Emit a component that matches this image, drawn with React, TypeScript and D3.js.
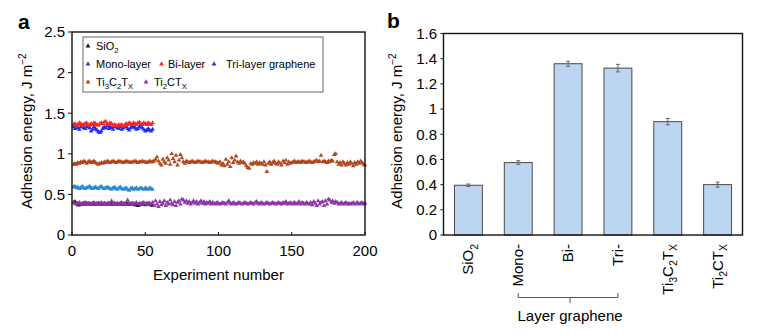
import React from 'react';
import * as d3 from 'd3';

// ---------- Panel a data (experiment number 1..N) ----------
const sio2 = [0.40,0.41,0.39,0.37,0.37,0.38,0.38,0.39,0.38,0.38,0.39,0.38,0.38,0.39,0.38,0.38,0.38,0.39,0.38,0.38,0.38,0.39,0.38,0.38,0.39,0.38,0.38,0.38,0.39,0.38,0.38,0.38,0.39,0.38,0.38,0.38,0.39,0.38,0.38,0.38,0.39,0.38,0.37,0.37,0.36,0.37,0.38,0.39,0.38,0.37,0.38,0.39,0.38,0.37,0.36];
const monoLayer = [0.59,0.60,0.58,0.59,0.57,0.58,0.60,0.58,0.57,0.58,0.59,0.60,0.58,0.57,0.58,0.59,0.58,0.57,0.59,0.60,0.58,0.57,0.58,0.59,0.58,0.57,0.56,0.58,0.59,0.57,0.56,0.58,0.59,0.57,0.56,0.57,0.58,0.56,0.55,0.57,0.58,0.56,0.57,0.58,0.56,0.57,0.58,0.57,0.56,0.58,0.57,0.56,0.58,0.57,0.56];
const biLayer = [1.36,1.37,1.35,1.36,1.38,1.37,1.35,1.36,1.37,1.38,1.36,1.35,1.37,1.36,1.38,1.37,1.36,1.35,1.37,1.38,1.37,1.39,1.40,1.37,1.36,1.38,1.37,1.35,1.36,1.35,1.34,1.36,1.35,1.36,1.34,1.35,1.37,1.36,1.38,1.37,1.36,1.38,1.37,1.36,1.38,1.39,1.37,1.36,1.38,1.37,1.36,1.38,1.37,1.36,1.38];
const triLayer = [1.33,1.31,1.34,1.32,1.30,1.33,1.35,1.32,1.31,1.33,1.34,1.32,1.28,1.30,1.33,1.31,1.29,1.27,1.26,1.28,1.31,1.33,1.32,1.34,1.31,1.33,1.32,1.30,1.33,1.34,1.32,1.31,1.33,1.30,1.32,1.34,1.33,1.31,1.29,1.32,1.33,1.34,1.32,1.30,1.31,1.33,1.35,1.32,1.30,1.28,1.29,1.31,1.29,1.28,1.30];
const ti3c2tx = [
  0.87,0.88,0.87,0.89,0.88,0.90,0.89,0.91,0.90,0.88,
  0.90,0.91,0.89,0.90,0.91,0.89,0.88,0.87,0.88,0.89,
  0.88,0.90,0.89,0.91,0.90,0.89,0.90,0.91,0.90,0.89,
  0.90,0.91,0.90,0.90,0.89,0.90,0.91,0.90,0.90,0.89,
  0.90,0.90,0.91,0.90,0.89,0.90,0.90,0.91,0.90,0.90,
  0.89,0.90,0.91,0.90,0.90,0.91,0.93,0.96,0.91,0.88,
  0.86,0.93,0.90,0.88,0.95,0.92,0.87,1.00,0.94,0.90,
  0.98,0.86,0.92,0.99,0.95,0.90,0.88,0.91,0.90,0.89,
  0.90,0.91,0.90,0.89,0.90,0.91,0.90,0.90,0.89,0.90,
  0.91,0.90,0.90,0.89,0.90,0.91,0.90,0.90,0.89,0.88,
  0.90,0.86,0.88,0.85,0.93,0.87,0.90,0.84,0.95,0.89,
  0.92,0.97,0.90,0.88,0.91,0.89,0.90,0.88,0.85,0.83,
  0.82,0.88,0.87,0.89,0.88,0.90,0.87,0.89,0.88,0.87,
  0.90,0.86,0.78,0.88,0.90,0.87,0.89,0.91,0.88,0.87,
  0.90,0.88,0.86,0.91,0.89,0.92,0.87,0.90,0.88,0.89,
  0.90,0.91,0.89,0.90,0.90,0.89,0.91,0.90,0.90,0.89,
  0.90,0.91,0.90,0.89,0.90,0.91,0.92,0.90,0.91,0.98,
  0.90,0.91,0.90,0.89,0.91,0.90,0.92,0.91,0.99,1.00,
  0.90,0.87,0.89,0.86,0.90,0.88,0.86,0.89,0.87,0.90,
  0.88,0.85,0.89,0.87,0.90,0.88,0.91,0.89,0.87,0.86];
const ti2ctx = [
  0.40,0.39,0.38,0.39,0.40,0.38,0.39,0.38,0.40,0.39,
  0.38,0.39,0.38,0.39,0.40,0.38,0.39,0.38,0.39,0.40,
  0.38,0.39,0.38,0.39,0.38,0.39,0.42,0.38,0.39,0.38,
  0.39,0.38,0.39,0.40,0.38,0.39,0.38,0.43,0.39,0.38,
  0.39,0.38,0.39,0.40,0.38,0.39,0.38,0.39,0.40,0.38,
  0.39,0.38,0.39,0.38,0.40,0.36,0.42,0.38,0.35,0.41,
  0.37,0.39,0.42,0.36,0.40,0.38,0.43,0.39,0.37,0.41,
  0.36,0.40,0.42,0.38,0.44,0.43,0.40,0.42,0.39,0.41,
  0.38,0.40,0.42,0.39,0.41,0.38,0.40,0.42,0.39,0.41,
  0.38,0.40,0.39,0.41,0.38,0.40,0.39,0.38,0.40,0.39,
  0.38,0.39,0.40,0.39,0.38,0.40,0.42,0.39,0.38,0.40,
  0.39,0.38,0.39,0.40,0.39,0.38,0.39,0.40,0.39,0.38,
  0.39,0.40,0.39,0.38,0.40,0.41,0.39,0.38,0.40,0.39,
  0.38,0.39,0.40,0.39,0.38,0.39,0.40,0.39,0.38,0.39,
  0.40,0.39,0.38,0.40,0.39,0.41,0.38,0.39,0.40,0.38,
  0.39,0.40,0.38,0.39,0.41,0.38,0.40,0.39,0.38,0.40,
  0.39,0.38,0.40,0.37,0.41,0.39,0.36,0.42,0.38,0.40,
  0.41,0.36,0.42,0.38,0.44,0.43,0.40,0.42,0.39,0.41,
  0.40,0.38,0.39,0.40,0.38,0.39,0.40,0.38,0.39,0.38,
  0.39,0.40,0.38,0.39,0.40,0.38,0.39,0.40,0.38,0.39];

const xTicksA = [0, 50, 100, 150, 200];
const yTicksA = [0, 0.5, 1, 1.5, 2, 2.5];

// ---------- Panel b data ----------
const barCats = ['SiO2', 'Mono-', 'Bi-', 'Tri-', 'Ti3C2Tx', 'Ti2CTx'];
const barVals = [0.395, 0.575, 1.36, 1.325, 0.9, 0.40];
const barErrs = [0.01, 0.015, 0.02, 0.03, 0.025, 0.02];
const yTicksB = [0, 0.2, 0.4, 0.6, 0.8, 1, 1.2, 1.4, 1.6];

const FONT = 'Liberation Sans, Arial, Helvetica, sans-serif';

const series = [
  { key: 'sio2', data: sio2, color: '#1a1a1a', legend: '#1a1a1a' },
  { key: 'mono', data: monoLayer, color: '#2b8ad2', legend: '#36479e' },
  { key: 'tri', data: triLayer, color: '#1f2ff0', legend: '#1f2ff0' },
  { key: 'bi', data: biLayer, color: '#ff2424', legend: '#ff2424' },
  { key: 'ti3', data: ti3c2tx, color: '#b4441b', legend: '#b4441b' },
  { key: 'ti2', data: ti2ctx, color: '#8b34a3', legend: '#8b34a3' },
];

function Label({ name, fs }: { name: string; fs: number }) {
  const sub = fs * 0.7;
  const parts: [string, boolean][] = [];
  if (name === 'SiO2') parts.push(['SiO', false], ['2', true]);
  else if (name === 'Ti3C2Tx') parts.push(['Ti', false], ['3', true], ['C', false], ['2', true], ['T', false], ['X', true]);
  else if (name === 'Ti2CTx') parts.push(['Ti', false], ['2', true], ['CT', false], ['X', true]);
  else parts.push([name, false]);
  let prevSub = false;
  return (
    <>
      {parts.map(([t, s], i) => {
        const dy = s && !prevSub ? fs * 0.3 : !s && prevSub ? -fs * 0.3 : 0;
        prevSub = s;
        return (
          <tspan key={i} dy={dy} fontSize={s ? sub : fs}>{t}</tspan>
        );
      })}
    </>
  );
}

export default function App() {
  const xA = d3.scaleLinear().domain([0, 200]).range([72, 365]);
  const yA = d3.scaleLinear().domain([0, 2.5]).range([235, 32]);
  const tri = d3.symbol(d3.symbolTriangle, 9)() as string;
  const triL = d3.symbol(d3.symbolTriangle, 10)() as string;

  const xB = d3.scaleBand<string>().domain(barCats).range([443.5, 742.5]).paddingInner(0.44).paddingOuter(0.22);
  const yB = d3.scaleLinear().domain([0, 1.6]).range([235, 33.5]);
  const bw = xB.bandwidth();

  const ttl = 15;
  const tick = 15;

  const monoC = xB('Mono-')! + bw / 2;
  const triC = xB('Tri-')! + bw / 2;
  const midC = (monoC + triC) / 2 + 2;

  return (
    <svg width={770} height={336} style={{ position: 'absolute', left: 0, top: 0, background: '#fff' }} fontFamily={FONT}>
      <text x={18} y={29} fontSize={21} fontWeight="bold">a</text>
      <text x={387} y={28} fontSize={21} fontWeight="bold">b</text>

      {/* ===== Panel a ===== */}
      <g>
        {series.map((s) => (
          <g key={s.key} fill={s.color}>
            {s.data.map((v, i) => (
              <path key={i} d={tri} transform={`translate(${xA(i + 1)},${yA(v)})`} />
            ))}
          </g>
        ))}
        <rect x={72} y={32} width={293} height={203} fill="none" stroke="#111" strokeWidth={1.4} />
        {yTicksA.map((t) => (
          <g key={t}>
            <line x1={68} x2={72} y1={yA(t)} y2={yA(t)} stroke="#111" strokeWidth={1} />
            <text x={65} y={yA(t)} dy="0.36em" textAnchor="end" fontSize={tick}>{String(t)}</text>
          </g>
        ))}
        {xTicksA.map((t) => (
          <g key={t}>
            <line x1={xA(t)} x2={xA(t)} y1={235} y2={232} stroke="#111" strokeWidth={1} />
            <text x={xA(t)} y={256} textAnchor="middle" fontSize={tick}>{String(t)}</text>
          </g>
        ))}
        <text x={xA(100)} y={280} textAnchor="middle" fontSize={ttl}>Experiment number</text>
        <text transform={`translate(32,131) rotate(-90)`} textAnchor="middle" fontSize={ttl}>
          Adhesion energy, J m<tspan dy={-6} fontSize={10}>−2</tspan>
        </text>

        {/* legend */}
        <rect x={83} y={37} width={240} height={55} fill="#fff" stroke="#666" strokeWidth={1} />
        <g fontSize={11}>
          <path d={triL} transform="translate(88,46)" fill={series[0].legend} />
          <text x={96} y={50}><Label name="SiO2" fs={11} /></text>
          <path d={triL} transform="translate(88,64)" fill={series[1].legend} />
          <text x={96} y={68}>Mono-layer</text>
          <path d={triL} transform="translate(161.5,64)" fill={series[3].legend} />
          <text x={168} y={68}>Bi-layer</text>
          <path d={triL} transform="translate(214,64)" fill={series[2].legend} />
          <text x={226} y={68}>Tri-layer graphene</text>
          <path d={triL} transform="translate(88,82)" fill={series[4].legend} />
          <text x={96} y={86}><Label name="Ti3C2Tx" fs={11} /></text>
          <path d={triL} transform="translate(146,82)" fill={series[5].legend} />
          <text x={154} y={86}><Label name="Ti2CTx" fs={11} /></text>
        </g>
      </g>

      {/* ===== Panel b ===== */}
      <g>
        {barCats.map((c, i) => {
          const x0 = xB(c)!;
          const cx = x0 + bw / 2;
          const v = barVals[i];
          const e = barErrs[i];
          return (
            <g key={c}>
              <rect x={x0} y={yB(v)} width={bw} height={yB(0) - yB(v)} fill="#bcd6f2" stroke="#4a4a4a" strokeWidth={1} />
              <g stroke="#666" strokeWidth={1}>
                <line x1={cx} x2={cx} y1={yB(v - e)} y2={yB(v + e)} />
                <line x1={cx - 2} x2={cx + 2} y1={yB(v - e)} y2={yB(v - e)} />
                <line x1={cx - 2} x2={cx + 2} y1={yB(v + e)} y2={yB(v + e)} />
              </g>
              <text transform={`translate(${cx + 5},244) rotate(-90)`} textAnchor="end" fontSize={ttl}>
                <Label name={c} fs={ttl} />
              </text>
            </g>
          );
        })}
        <rect x={443.5} y={33.5} width={299} height={201.5} fill="none" stroke="#111" strokeWidth={1.4} />
        {yTicksB.map((t) => (
          <g key={t}>
            <line x1={440.5} x2={443.5} y1={yB(t)} y2={yB(t)} stroke="#111" strokeWidth={1} />
            <text x={437} y={yB(t)} dy="0.36em" textAnchor="end" fontSize={tick}>{String(t)}</text>
          </g>
        ))}
        <text transform={`translate(402,131) rotate(-90)`} textAnchor="middle" fontSize={ttl}>
          Adhesion energy, J m<tspan dy={-6} fontSize={10}>−2</tspan>
        </text>
        <path d={`M${monoC},293 V297.5 H${triC} V293 M${midC},297.5 V303`} fill="none" stroke="#555" strokeWidth={1} />
        <text x={midC} y={320.5} textAnchor="middle" fontSize={ttl}>Layer graphene</text>
      </g>
    </svg>
  );
}
